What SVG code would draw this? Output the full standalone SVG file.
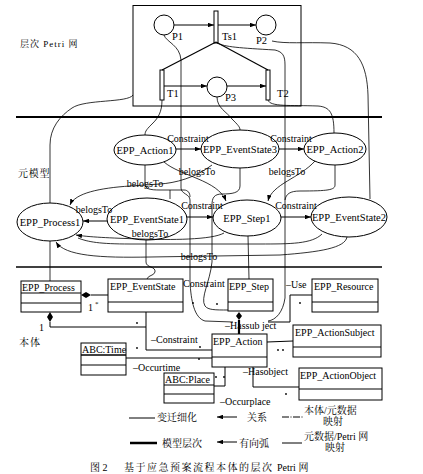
<svg xmlns="http://www.w3.org/2000/svg" width="423" height="474" viewBox="0 0 423 474">
<style>
.ln{fill:none;stroke:#000;stroke-width:1}
.th{fill:none;stroke:#000;stroke-width:0.8}
.bar{fill:#fff;stroke:#000;stroke-width:1}
.nd{fill:#fff;stroke:#000;stroke-width:1}
.t{font-family:"Liberation Serif","Noto Sans CJK SC",serif;font-size:10.5px;fill:#000}
.tc{font-family:"Liberation Serif","Noto Sans CJK SC",serif;font-size:10.5px;fill:#000;text-anchor:middle}
.tl{font-family:"Liberation Serif","Noto Sans CJK SC",serif;font-size:10px;fill:#000}
.tb{font-family:"Liberation Serif","Noto Sans CJK SC",serif;font-size:10px;fill:#000}
.cn{font-family:"Liberation Serif","Noto Serif CJK SC","Noto Sans CJK SC",serif;font-size:10px;fill:#000}
.dot{fill:#000}
</style>
<defs>
<marker id="ar" viewBox="0 0 8 6" refX="8" refY="3" markerWidth="6" markerHeight="4.5" markerUnits="userSpaceOnUse" orient="auto">
<path d="M0,0 L8,3 L0,6 z" fill="#000"/>
</marker>
</defs>
<rect width="423" height="474" fill="#fff"/>

<!-- section labels -->
<text class="cn" x="20" y="47" style="font-size:9px;letter-spacing:1px">层次 Petri 网</text>
<text class="cn" x="18" y="177" style="letter-spacing:0.8px">元模型</text>
<text class="cn" x="19" y="346" style="letter-spacing:1px">本体</text>

<!-- level separators -->
<line x1="16" y1="117" x2="382" y2="117" stroke="#000" stroke-width="2"/>
<line x1="16" y1="267" x2="382" y2="267" stroke="#000" stroke-width="1.6"/>

<!-- Petri net -->
<g id="petri-box"><rect x="133" y="5.5" width="168" height="100.5" class="ln"/></g>
<g id="P1"><circle cx="164" cy="25" r="10" class="nd"/><text class="t" x="172" y="40">P1</text></g>
<g id="P2"><circle cx="266" cy="25" r="10" class="nd"/><text class="t" x="256" y="44">P2</text></g>
<g id="P3"><circle cx="217" cy="87" r="10" class="nd"/><text class="t" x="225" y="101">P3</text></g>
<g id="Ts1"><rect x="214" y="11" width="4" height="32" class="bar"/><text class="t" x="222" y="40">Ts1</text></g>
<g id="T1"><rect x="160" y="70" width="4" height="30" class="bar"/><text class="t" x="167" y="97">T1</text></g>
<g id="T2"><rect x="266" y="70" width="4" height="30" class="bar"/><text class="t" x="277" y="97">T2</text></g>

<!-- meta model nodes -->
<g id="EPP_Action1"><ellipse cx="145" cy="150" rx="31" ry="15" class="nd"/><text class="tc" x="145" y="153.5">EPP_Action1</text></g>
<g id="EPP_EventState3"><ellipse cx="240" cy="149" rx="39" ry="19" class="nd"/><text class="tc" x="240" y="152.5">EPP_EventState3</text></g>
<g id="EPP_Action2"><ellipse cx="335" cy="149" rx="31" ry="16" class="nd"/><text class="tc" x="335" y="152.5">EPP_Action2</text></g>
<g id="EPP_Process1"><ellipse cx="50" cy="222" rx="33" ry="19" class="nd"/><text class="tc" x="50" y="225.5">EPP_Process1</text></g>
<g id="EPP_EventState1"><ellipse cx="147" cy="219" rx="40" ry="21" class="nd"/><text class="tc" x="147" y="222.5">EPP_EventState1</text></g>
<g id="EPP_Step1"><ellipse cx="247" cy="218" rx="34" ry="18" class="nd"/><text class="tc" x="247" y="221.5">EPP_Step1</text></g>
<g id="EPP_EventState2"><ellipse cx="349" cy="217" rx="38" ry="20" class="nd"/><text class="tc" x="349" y="220.5">EPP_EventState2</text></g>

<!-- ontology nodes -->
<g id="EPP_Process"><rect x="21" y="281" width="60" height="31" class="nd"/><line x1="21" y1="293" x2="81" y2="293" class="ln"/><line x1="21" y1="303" x2="81" y2="303" class="ln"/><text class="tb" x="22" y="291">EPP_Process</text></g>
<g id="EPP_EventState"><rect x="108" y="279" width="75" height="33" class="nd"/><line x1="108" y1="302" x2="183" y2="302" class="ln"/><text class="tb" x="110" y="290">EPP_EventState</text></g>
<g id="EPP_Step"><rect x="228" y="279" width="45" height="32" class="nd"/><line x1="228" y1="302" x2="273" y2="302" class="ln"/><text class="tb" x="229" y="290">EPP_Step</text></g>
<g id="EPP_Resource"><rect x="312" y="279" width="66" height="33" class="nd"/><line x1="312" y1="302" x2="378" y2="302" class="ln"/><text class="tb" x="314" y="290">EPP_Resource</text></g>
<g id="EPP_ActionSubject"><rect x="293" y="325" width="88" height="32" class="nd"/><line x1="293" y1="347" x2="381" y2="347" class="ln"/><text class="tb" x="295" y="336">EPP_ActionSubject</text></g>
<g id="EPP_Action"><rect x="212" y="334" width="55" height="33" class="nd"/><line x1="212" y1="357" x2="267" y2="357" class="ln"/><text class="tb" x="213" y="345">EPP_Action</text></g>
<g id="ABC_Time"><rect x="81" y="343" width="45" height="32" class="nd"/><line x1="81" y1="355" x2="126" y2="355" stroke="#000" stroke-width="1.5"/><line x1="81" y1="365" x2="126" y2="365" class="ln"/><text class="tb" x="82" y="353">ABC:Time</text></g>
<g id="ABC_Place"><rect x="164" y="373" width="50" height="30" class="nd"/><line x1="164" y1="385" x2="214" y2="385" class="ln"/><line x1="164" y1="394" x2="214" y2="394" class="ln"/><text class="tb" x="165" y="383">ABC:Place</text></g>
<g id="EPP_ActionObject"><rect x="299" y="368" width="83" height="32" class="nd"/><line x1="299" y1="389" x2="382" y2="389" class="ln"/><text class="tb" x="300" y="379">EPP_ActionObject</text></g>

<g id="connectors">
<!-- Petri arcs -->
<line x1="174" y1="25" x2="214" y2="25" class="ln" marker-end="url(#ar)"/>
<line x1="218" y1="25" x2="256" y2="25" class="ln" marker-end="url(#ar)"/>
<line x1="164" y1="86" x2="207" y2="86" class="ln" marker-end="url(#ar)"/>
<line x1="227" y1="86" x2="266" y2="86" class="ln" marker-end="url(#ar)"/>
<line x1="216" y1="42" x2="162" y2="70" stroke="#000" stroke-width="1.2"/>
<line x1="216" y1="42" x2="268" y2="70" stroke="#000" stroke-width="1.2"/>

<!-- Petri to meta mappings -->
<path class="th" d="M133,95 C128,103 85,99 72,108 C60,116 50,128 50,145 L50,203"/>
<path class="th" d="M162,100 C162,112 158,118 153,123 C147,129 145,131 145,135"/>
<path class="th" d="M164,35 C166,42 180,45 181,60 L181,188 C181,194 190,194 190,200 L190,282 C191,300 194,318 205,321 L233,322"/>
<path class="th" d="M217,97 C217,108 227,112 232,119 C238,125 240,127 240,130"/>
<path class="th" d="M268,100 C270,107 290,105 318,106 C330,107 334,113 334,133"/>
<path class="th" d="M217,43 C225,47 240,48 275,50 C283,52 285,56 285,65 L285,298 C283,312 276,320 268,321"/>
<path class="th" d="M272,41 C285,44 305,42 330,43 C358,45 367,65 368,95 L370,199"/>

<!-- meta constraints -->
<line x1="176" y1="149" x2="201" y2="149" class="ln" marker-end="url(#ar)"/>
<line x1="279" y1="149" x2="304" y2="149" class="ln" marker-end="url(#ar)"/>
<line x1="187" y1="217" x2="213" y2="217" class="ln" marker-end="url(#ar)"/>
<line x1="281" y1="217" x2="311" y2="217" class="ln" marker-end="url(#ar)"/>
<line x1="107" y1="221" x2="83" y2="221" class="ln" marker-end="url(#ar)"/>

<!-- belongsTo curves -->
<path class="th" d="M164,162 C180,176 218,180 226,201" marker-end="url(#ar)"/>
<path class="th" d="M315,161 C300,178 272,184 268,201" marker-end="url(#ar)"/>
<path class="th" d="M212,165 C195,178 175,183 160,184 L130,186 C100,188 75,193 70,205" marker-end="url(#ar)"/>
<path class="th" d="M224,233 C212,240 170,240 140,239 C110,238 88,237 76,235" marker-end="url(#ar)"/>
<path class="th" d="M322,234 C312,244 290,244 260,244 L130,244 C100,244 88,242 78,238"/>
<path class="th" d="M347,237 C345,248 320,252 280,255 L150,257 C100,258 65,256 56,242" marker-end="url(#ar)"/>

<!-- other meta lines -->
<path class="th" d="M145,165 L145,184 C145,189 150,190 160,190 L184,190 C188,190 190,193 190,197"/>
<line x1="170" y1="190" x2="170" y2="199" class="th"/>
<path class="th" d="M240,168 L240,186 C240,193 232,194 222,194 C214,194 212,198 212,205 L212,262 C210,282 200,298 205,306 C208,310 215,310 228,310"/>
<path class="th" d="M335,165 L335,185 C335,190 328,191 300,191 C290,191 286,194 285,200"/>

<!-- meta to ontology -->
<line x1="50" y1="241" x2="50" y2="281" class="th"/>
<path class="th" d="M146,240 L146,262 C146,268 156,266 155,272 C154,276 148,275 147,279"/>
<line x1="248" y1="236" x2="249" y2="279" class="th"/>

<!-- ontology relations -->
<line x1="91" y1="295" x2="108" y2="295" class="ln"/>
<path d="M81,295 L86,292 L91,295 L86,298 z" fill="#000"/>
<path d="M50,312 L53,317 L50,322 L47,317 z" fill="#000"/>
<path class="ln" d="M50,322 L50,327 L146,327"/>
<path class="ln" d="M146,312 L146,350 L212,350"/>
<path d="M239,312 L242,316 L239,320 L236,316 z" fill="#000"/>
<line x1="239" y1="320" x2="239" y2="334" stroke="#000" stroke-width="2.2"/>
<line x1="126" y1="358" x2="212" y2="358" class="ln"/>
<path class="ln" d="M225,367 L225,386 L214,386"/>
<path class="ln" d="M253,367 L253,387 L299,387"/>
<line x1="267" y1="342" x2="293" y2="341" class="ln"/>
<path class="ln" d="M268,322 L290,322 L290,295 L312,295"/>
</g>

<!-- connector labels -->
<text class="tc" x="188" y="142" style="font-size:10px">Constraint</text>
<text class="tc" x="291" y="142" style="font-size:10px">Constraint</text>
<text class="tc" x="202" y="209" style="font-size:10px">Constraint</text>
<text class="tc" x="296" y="209" style="font-size:10px">Constraint</text>
<text class="tc" x="94" y="213" style="font-size:10px">belogsTo</text>
<text class="tc" x="197" y="175" style="font-size:10px">belogsTo</text>
<text class="tc" x="287" y="175" style="font-size:10px">belogsTo</text>
<text class="tc" x="145" y="187" style="font-size:10px">belogsTo</text>
<text class="tc" x="150" y="237" style="font-size:10px">belogsTo</text>
<text class="tc" x="199" y="260" style="font-size:10px">belogsTo</text>

<text class="tl" x="183" y="287">Constraint</text>
<text class="tl" x="286" y="288">–Use</text>
<text class="tl" x="225" y="329">–Hassub ject</text>
<text class="tl" x="151" y="343">–Constraint</text>
<text class="tl" x="133" y="371">–Occurtime</text>
<text class="tl" x="243" y="375">–Hasobject</text>
<text class="tl" x="220" y="405">–Occurplace</text>
<text class="tl" x="88" y="311">1</text>
<text class="tl" x="95" y="306" style="font-size:7px">*</text>
<text class="tl" x="39" y="331">1</text>
<g class="dot">
<circle cx="137" cy="323" r="0.9"/>
<circle cx="193" cy="303" r="0.9"/>
<circle cx="217" cy="304" r="0.9"/>
<circle cx="300" cy="303" r="0.9"/>
<circle cx="137" cy="348" r="0.9"/>
<circle cx="200" cy="347" r="0.9"/>
<circle cx="199" cy="359" r="0.9"/>
<circle cx="278" cy="350" r="0.9"/>
<circle cx="283" cy="350" r="0.9"/>
<circle cx="216" cy="377" r="0.9"/>
<circle cx="224" cy="377" r="0.9"/>
<circle cx="286" cy="394" r="0.9"/>
</g>

<!-- legend -->
<g id="legend">
<line x1="129" y1="418" x2="155" y2="418" class="ln"/>
<text class="cn" x="157" y="421">变迁细化</text>
<line x1="237" y1="417" x2="217" y2="417" class="ln" marker-end="url(#ar)"/>
<text class="cn" x="247" y="421">关系</text>
<line x1="282" y1="417" x2="303" y2="417" stroke="#000" stroke-width="1" stroke-dasharray="7,1.5,1,1.5"/>
<text class="cn" x="304" y="414">本体/元数据</text>
<text class="cn" x="323" y="425">映射</text>
<line x1="130" y1="443" x2="157" y2="443" stroke="#000" stroke-width="2.5"/>
<text class="cn" x="162" y="447">模型层次</text>
<line x1="237" y1="442" x2="217" y2="442" class="ln" marker-end="url(#ar)"/>
<text class="cn" x="239" y="447">有向弧</text>
<line x1="282" y1="443" x2="302" y2="443" class="ln"/>
<text class="cn" x="304" y="440">元数据/Petri 网</text>
<text class="cn" x="325" y="451">映射</text>
</g>
<text class="cn" y="471"><tspan x="90">图 2</tspan><tspan x="124" style="letter-spacing:1.5px">基于应急预案流程本体的层次</tspan><tspan x="277">Petri 网</tspan></text>
</svg>
